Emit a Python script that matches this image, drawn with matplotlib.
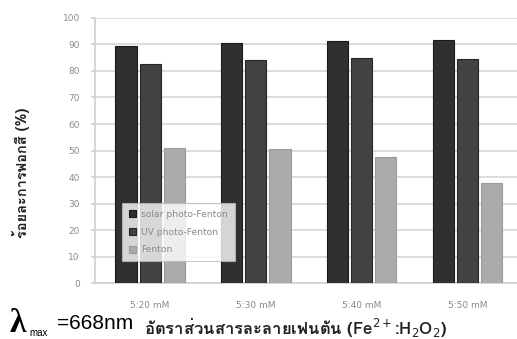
import matplotlib
matplotlib.use("Agg")
import matplotlib.pyplot as plt
import numpy as np
from matplotlib import font_manager
from matplotlib.ft2font import FT2Font

# pick any installed family that can draw Thai
thai_family = None
for f in font_manager.fontManager.ttflist:
    try:
        if ord('ฟ') in FT2Font(f.fname).get_charmap():
            thai_family = f.name
            break
    except Exception:
        pass
families = ([thai_family] if thai_family else []) + ['Liberation Sans', 'DejaVu Sans']

ratios = ['5:20 mM', '5:30 mM', '5:40 mM', '5:50 mM']
solar = [89.5, 90.5, 91.3, 91.7]
uv = [82.6, 84.2, 84.9, 84.5]
fenton = [50.8, 50.6, 47.6, 37.6]

fig = plt.figure(figsize=(5.17, 3.39), dpi=100)
ax = fig.add_axes([0.184, 0.165, 0.816, 0.782])

x = np.arange(len(ratios))
w = 0.2
step = 0.228
ax.bar(x - step, solar, w, color='#303030', edgecolor='#1a1a1a', linewidth=0.8,
       label='solar photo-Fenton', zorder=3)
ax.bar(x, uv, w, color='#424242', edgecolor='#262626', linewidth=0.8,
       label='UV photo-Fenton', zorder=3)
ax.bar(x + step, fenton, w, color='#ababab', edgecolor='#9a9a9a', linewidth=0.8,
       label='Fenton', zorder=3)

ax.set_xlim(-0.52, 3.47)
ax.set_ylim(0, 100)
ax.set_yticks(range(0, 101, 10))
ax.set_xticks(x)
ax.set_xticklabels(ratios)
ax.yaxis.grid(True, color='#dcdcdc', linewidth=1.4, zorder=0)
ax.tick_params(axis='y', colors='#d0d0d0', labelcolor='#8a8a8a', labelsize=6.5,
               length=3, width=1.2, pad=8)
ax.tick_params(axis='x', length=0, labelcolor='#8a8a8a', labelsize=6.5, pad=13)
for side in ['top', 'right']:
    ax.spines[side].set_visible(False)
ax.spines['left'].set_color('#d0d0d0')
ax.spines['left'].set_linewidth(1.2)
ax.spines['bottom'].set_color('#d0d0d0')
ax.spines['bottom'].set_linewidth(1.2)

leg = ax.legend(loc='lower left', bbox_to_anchor=(0.052, 0.065), fontsize=6.6,
                frameon=True, fancybox=False, edgecolor='#bbbbbb',
                handlelength=0.8, handleheight=0.8, handletextpad=0.6,
                labelspacing=0.95, borderpad=0.75, labelcolor='#8a8a8a')
leg.get_frame().set_linewidth(0.8)
leg.set_zorder(5)

fig.text(0.04, 0.49, 'ร้อยละการฟอกสี (%)', rotation=90, ha='center', va='center',
         fontsize=10.5, fontweight='bold', family=families, color='#222222')
fig.text(0.278, 0.035, 'อัตราส่วนสารละลายเฟนตัน (Fe$^{2+}$:H$_2$O$_2$)', ha='left',
         va='center', fontsize=12, fontweight='bold', family=families, color='#222222')

fig.text(0.018, 0.02, 'λ', fontsize=24, family='Liberation Serif', fontweight='bold',
         va='baseline', ha='left')
fig.text(0.056, 0.018, 'max', fontsize=7, family='Liberation Sans', va='center', ha='left')
fig.text(0.11, 0.047, '=668nm', fontsize=15, family='Liberation Sans', va='center', ha='left')

fig.savefig('out.png', dpi=100)
